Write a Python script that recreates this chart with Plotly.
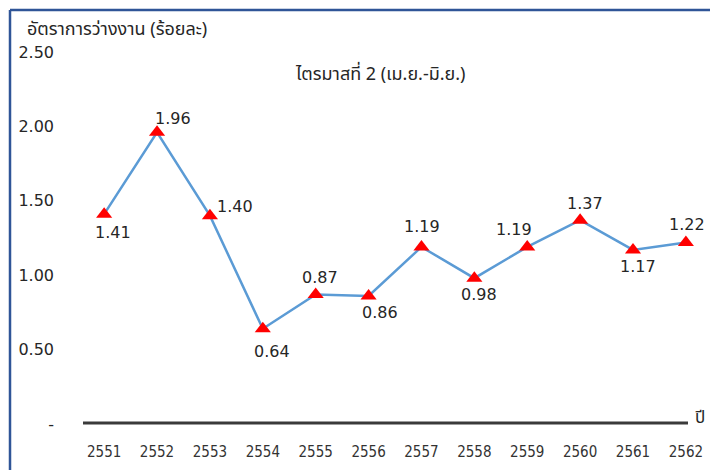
import plotly.graph_objects as go

years = [2551, 2552, 2553, 2554, 2555, 2556, 2557, 2558, 2559, 2560, 2561, 2562]
rates = [1.41, 1.96, 1.40, 0.64, 0.87, 0.86, 1.19, 0.98, 1.19, 1.37, 1.17, 1.22]
# label offsets from each point, in pixels (dx right, dy down)
label_dx = [9, 16, 25, 9, 4, 11, 1, 5, -13, 5, 5, 1]
label_dy = [18, -14, -9, 23, -17, 16, -20, 16, -17, -17, 17, -18]
y_ticks = [0, 0.5, 1.0, 1.5, 2.0, 2.5]
y_ticktext = ["-", "0.50", "1.00", "1.50", "2.00", "2.50"]

OFF = 8  # page body margin
W, H = 718 - OFF, 470 - OFF
L, R, T, B = 83 - OFF, 30, 52 - OFF, 46
PW, PH = W - L - R, H - T - B

def px(x):
    return (x - OFF - L) / PW

def py(y):
    return (H - B - (y - OFF)) / PH

thai = "Noto Sans Thai, Tahoma, Noto Sans, DejaVu Sans, sans-serif"
num = "DejaVu Sans, Verdana, sans-serif"

fig = go.Figure()
fig.add_trace(go.Scatter(
    x=years, y=rates,
    mode="lines+markers",
    line=dict(color="#5B9BD5", width=2.5),
    marker=dict(symbol="triangle-up", size=14, color="#FF0000"),
    cliponaxis=False,
    showlegend=False,
))

annotations = []
for x, v, dx, dy in zip(years, rates, label_dx, label_dy):
    annotations.append(dict(
        x=x, y=v, xref="x", yref="y", text=f"{v:.2f}", showarrow=False,
        xanchor="center", yanchor="middle", xshift=dx, yshift=-dy,
        font=dict(family=num, size=16, color="#262626"),
    ))

annotations += [
    dict(text="อัตราการว่างงาน (ร้อยละ)", xref="paper", yref="paper", x=px(25), y=py(29),
         xanchor="left", yanchor="middle", showarrow=False,
         font=dict(family=thai, size=18, color="#262626")),
    dict(text="ไตรมาสที่ 2 (เม.ย.-มิ.ย.)", xref="paper", yref="paper", x=px(380), y=py(75),
         xanchor="center", yanchor="middle", showarrow=False,
         font=dict(family=thai, size=18, color="#262626")),
    dict(text="ปี", xref="paper", yref="paper", x=px(693), y=py(418),
         xanchor="left", yanchor="middle", showarrow=False,
         font=dict(family=thai, size=17, color="#262626")),
]

fig.update_layout(
    width=W, height=H,
    margin=dict(l=L, r=R, t=T, b=B, autoexpand=False),
    paper_bgcolor="white", plot_bgcolor="white",
    xaxis=dict(
        range=[2550.6, 2562.04],
        tickvals=years, ticktext=[str(y) for y in years],
        showgrid=False, zeroline=False,
        showline=False, ticks="", automargin=False,
        tickfont=dict(family="DejaVu Sans Condensed, DejaVu Sans, sans-serif", size=15, color="#333333"),
        ticklabelstandoff=17,
    ),
    yaxis=dict(
        range=[0, 2.5],
        tickvals=y_ticks, ticktext=y_ticktext,
        showgrid=False, zeroline=False, showline=False, ticks="", automargin=False,
        tickfont=dict(family=num, size=16, color="#262626"),
        ticklabelstandoff=28,
    ),
    shapes=[
        dict(type="line", xref="paper", yref="paper", x0=0, x1=1, y0=py(423), y1=py(423),
             line=dict(color="#3A3A3A", width=3)),
        dict(type="line", xref="paper", yref="paper", x0=px(10), x1=px(718), y0=py(10), y1=py(10),
             line=dict(color="#2F5597", width=2.5)),
        dict(type="line", xref="paper", yref="paper", x0=px(10), x1=px(10), y0=py(10), y1=py(470),
             line=dict(color="#2F5597", width=2.5)),
    ],
    annotations=annotations,
)

fig.write_html("out.html")
